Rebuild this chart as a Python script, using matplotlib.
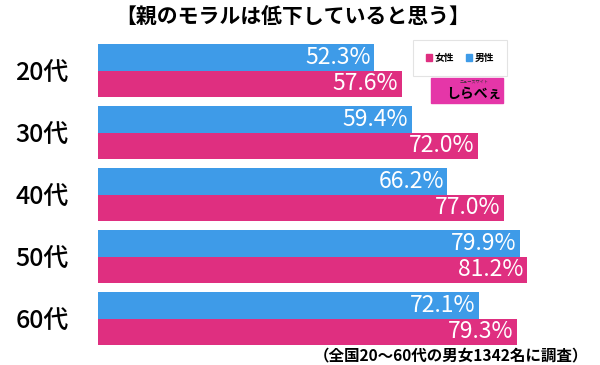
import numpy as np
import matplotlib.pyplot as plt
from matplotlib.patches import Patch, Rectangle

plt.rcParams['font.family'] = ['Noto Sans CJK JP', 'DejaVu Sans']

ages = ['20代', '30代', '40代', '50代', '60代']
male = [52.3, 59.4, 66.2, 79.9, 72.1]
female = [57.6, 72.0, 77.0, 81.2, 79.3]
title = '【親のモラルは低下していると思う】'
note = '（全国20～60代の男女1342名に調査）'

blue = '#3e9be8'
pink = '#df2f80'

fig = plt.figure(figsize=(6.0, 3.65), dpi=100)
ax = fig.add_axes([98 / 600, 1 - 349.7 / 365, 1 - 98 / 600, 310 / 365])

y = np.arange(len(ages))
h = 0.427
ax.barh(y - h / 2, male, height=h, color=blue, edgecolor='none')
ax.barh(y + h / 2, female, height=h, color=pink, edgecolor='none')

for i in range(len(ages)):
    ax.text(male[i] - 0.7, y[i] - h / 2, f'{male[i]:.1f}%', ha='right', va='center',
            color='white', fontsize=16.5)
    ax.text(female[i] - 0.7, y[i] + h / 2, f'{female[i]:.1f}%', ha='right', va='center',
            color='white', fontsize=16.5)

ax.set_xlim(0, 95.1)
ax.set_ylim(4.5, -0.5)
ax.set_yticks(y)
ax.set_yticklabels(ages, fontsize=18, fontweight='medium')
ax.tick_params(axis='y', length=0, pad=21)
ax.set_xticks([])
for s in ax.spines.values():
    s.set_visible(False)

fig.text(0.488, 1 - 17 / 365, title, ha='center', va='center', fontsize=15, fontweight='bold')
fig.text(588 / 600, 1 - 355 / 365, note, ha='right', va='center', fontsize=11.2, fontweight='bold')

# legend
handles = [Patch(color=pink, label='女性'), Patch(color=blue, label='男性')]
leg = fig.legend(handles=handles, ncol=2, loc='center',
                 bbox_to_anchor=(460 / 600, 1 - 58 / 365), frameon=True, fancybox=False,
                 handlelength=0.6, handleheight=0.6, handletextpad=0.3, columnspacing=1.2,
                 borderpad=1.3, prop={'weight': 'bold', 'size': 7})
leg.get_frame().set_edgecolor('#dddddd')
leg.get_frame().set_linewidth(0.8)

# logo
fig.patches.append(Rectangle((431 / 600, 1 - 103 / 365), 72 / 600, 25 / 365,
                             transform=fig.transFigure, color='#e536a8'))
fig.text(474 / 600, 1 - 94 / 365, 'しらべぇ', ha='center', va='center', fontsize=10,
         fontweight='bold', color='black')
fig.text(474 / 600, 1 - 82 / 365, 'ニュースサイト', ha='center', va='center', fontsize=3,
         color='#333333')

fig.savefig('out.png', dpi=100)
